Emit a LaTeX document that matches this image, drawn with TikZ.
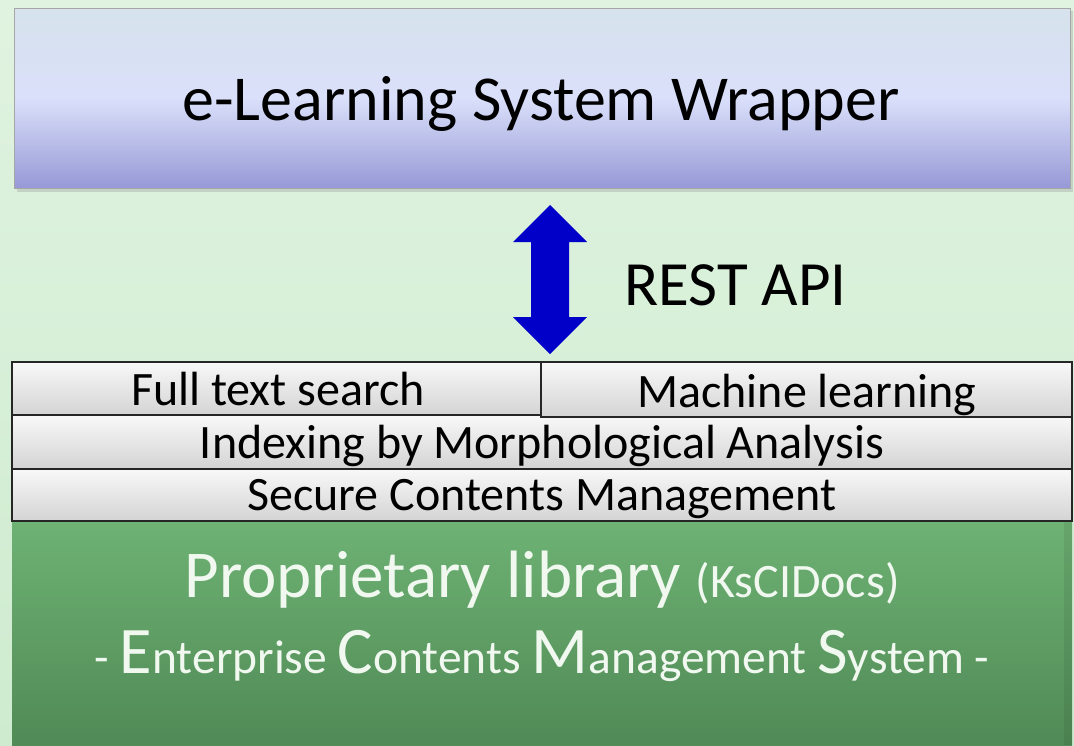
\documentclass[tikz,border=0pt]{standalone}
\usepackage{fontspec}
\setmainfont{Carlito}
\definecolor{bgtop}{RGB}{224,243,224}
\definecolor{bgbot}{RGB}{206,235,207}
\definecolor{wtop}{RGB}{214,226,236}
\definecolor{wmid}{RGB}{218,224,250}
\definecolor{wbot}{RGB}{150,153,214}
\definecolor{gtop}{RGB}{248,248,248}
\definecolor{gbot}{RGB}{212,212,212}
\definecolor{ltop}{RGB}{110,178,116}
\definecolor{lbot}{RGB}{80,138,86}
\definecolor{arrowblue}{RGB}{0,0,200}
\definecolor{libtext}{RGB}{240,248,240}
\tikzset{
  layerbox/.style={draw=black!85, line width=1.4pt, top color=gtop, bottom color=gbot, minimum height=53pt, inner sep=0pt},
  layertext/.style={anchor=base, inner sep=0pt, font=\fontsize{48}{51}\selectfont},
}
\newcommand{\ecmcap}[1]{{\fontsize{66.5}{70}\selectfont #1}}
\begin{document}
\begin{tikzpicture}[x=1pt,y=-1pt]
\useasboundingbox (0,0) rectangle (1074,745);
\shade[top color=bgtop, bottom color=bgbot] (0,0) rectangle (1074,745);
% wrapper box
\fill[black!40, opacity=0.35] (17,11) rectangle (1073,192);
\node[draw=black!35, line width=0.8pt, shading=axis, top color=wtop, bottom color=wbot, middle color=wmid, minimum width=1056pt, minimum height=180pt, inner sep=0pt] (wrap) at (542,98) {};
\node[anchor=base, inner sep=0pt, font=\fontsize{64}{67}\selectfont] (wraptxt) at (541,120) {e-Learning System Wrapper};
% double arrow
\fill[arrowblue] (550,205) -- (587,242) -- (569,242) -- (569,317) -- (587,317) -- (550,354) -- (513,317) -- (531,317) -- (531,242) -- (513,242) -- cycle;
\node[anchor=base west, inner sep=0pt, font=\fontsize{63}{66}\selectfont] (rest) at (624,305) {REST API};
% library
\node[draw=none, top color=ltop, bottom color=lbot, minimum width=1060pt, minimum height=224pt, inner sep=0pt] (lib) at (542,633) {};
\fill[black, opacity=0.07] (1064,521) rectangle (1072,745);
\node[anchor=base, inner sep=0pt, text=libtext, font=\fontsize{67}{70}\selectfont] (libtxt) at (542,597) {Proprietary library {\fontsize{48}{51}\selectfont(KsCIDocs)}};
\node[anchor=base, inner sep=0pt, text=libtext, font=\fontsize{47.5}{50}\selectfont] (ecmtxt) at (542,673) {- \ecmcap{E}nterprise \ecmcap{C}ontents \ecmcap{M}anagement \ecmcap{S}ystem -};
% layers
\node[layerbox, minimum width=1060pt, minimum height=52pt] (secure) at (542,495) {};
\node[layerbox, minimum width=1060pt] (index) at (542,442) {};
\node[layerbox, minimum width=529pt] (fts) at (276.5,388.5) {};
\node[layerbox, minimum width=531pt, minimum height=55pt] (ml) at (806.5,389.5) {};
\node[layertext] (ftstxt) at (278,405) {Full text search};
\node[layertext] (mltxt) at (807,407) {Machine learning};
\node[layertext] (indextxt) at (542,458) {Indexing by Morphological Analysis};
\node[layertext] (securetxt) at (542,510) {Secure Contents Management};
\end{tikzpicture}
\end{document}
